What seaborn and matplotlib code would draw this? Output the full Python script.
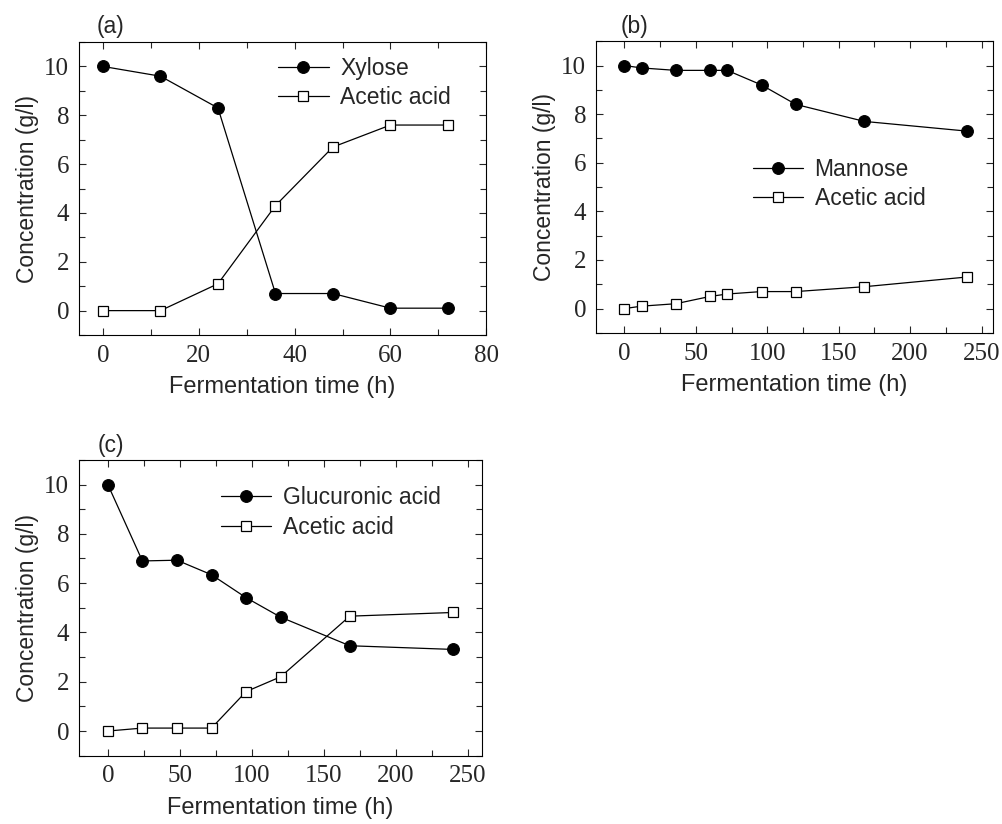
import matplotlib

matplotlib.use("Agg")
import matplotlib.pyplot as plt
import pandas as pd
import seaborn as sns
from matplotlib.ticker import MultipleLocator

# panel (a)
time_a = [0, 12, 24, 36, 48, 60, 72]
xylose = [10.0, 9.6, 8.3, 0.7, 0.7, 0.1, 0.1]
acetic_a = [0.0, 0.0, 1.1, 4.3, 6.7, 7.6, 7.6]

# panel (b)
time_b = [0, 12, 36, 60, 72, 96, 120, 168, 240]
mannose = [10.0, 9.9, 9.8, 9.8, 9.8, 9.2, 8.4, 7.7, 7.3]
acetic_b = [0.0, 0.1, 0.2, 0.5, 0.6, 0.7, 0.7, 0.9, 1.3]

# panel (c)
time_c = [0, 24, 48, 72, 96, 120, 168, 240]
glucuronic = [10.0, 6.9, 6.93, 6.34, 5.41, 4.62, 3.46, 3.31]
acetic_c = [0.0, 0.12, 0.12, 0.12, 1.6, 2.2, 4.66, 4.81]

PANELS = [
    ("(a)", time_a, "Xylose", xylose, acetic_a),
    ("(b)", time_b, "Mannose", mannose, acetic_b),
    ("(c)", time_c, "Glucuronic acid", glucuronic, acetic_c),
]

sns.set_theme(style="ticks")
plt.rcParams["font.family"] = ["Liberation Sans", "DejaVu Sans"]
plt.rcParams["axes.linewidth"] = 0.8

fig = plt.figure(figsize=(10.03, 8.24), dpi=100)
axes = [
    fig.add_axes([0.0788, 0.5934, 0.406, 0.3556]),
    fig.add_axes([0.594, 0.596, 0.396, 0.354]),
    fig.add_axes([0.0788, 0.0829, 0.402, 0.359]),
]

xlims = [(-5, 80), (-20, 258), (-20, 260)]
xmajor = [20, 50, 50]
xminor = [10, 25, 25]
legend_pos = [(0.489, 0.95), (0.395, 0.6), (0.352, 0.91)]
label_pos = [(0.042, 1.03), (0.063, 1.027), (0.045, 1.028)]

for ax, (tag, t, sugar_name, sugar, acetic), xlim, xmj, xmn, lpos, tpos in zip(
    axes, PANELS, xlims, xmajor, xminor, legend_pos, label_pos
):
    df = pd.DataFrame({"time": t, "sugar": sugar, "acetic": acetic})
    sns.lineplot(
        data=df, x="time", y="sugar", ax=ax, color="black", lw=0.9,
        marker="o", ms=8.5, mfc="black", mec="black", label=sugar_name,
    )
    sns.lineplot(
        data=df, x="time", y="acetic", ax=ax, color="black", lw=0.9,
        marker="s", ms=7.5, mfc="white", mec="black", mew=0.9, label="Acetic acid",
    )

    ax.set_xlim(*xlim)
    ax.set_ylim(-1, 11)
    ax.xaxis.set_major_locator(MultipleLocator(xmj))
    ax.xaxis.set_minor_locator(MultipleLocator(xmn))
    ax.yaxis.set_major_locator(MultipleLocator(2))
    ax.yaxis.set_minor_locator(MultipleLocator(1))
    ax.tick_params(which="both", direction="in", top=True, right=True,
                   width=0.8, labelsize=18, labelfontfamily="Liberation Serif")
    ax.tick_params(which="major", length=5, pad=7)
    ax.tick_params(which="minor", length=4)
    for s in ax.spines.values():
        s.set_visible(True)
        s.set_color("black")

    ax.set_xlabel("Fermentation time (h)", fontsize=17, labelpad=7)
    ax.set_ylabel("Concentration (g/l)", fontsize=16.5, labelpad=4)
    ax.text(tpos[0], tpos[1], tag, transform=ax.transAxes, fontsize=16.5,
            ha="left", va="baseline")

    ax.legend(loc="upper left", bbox_to_anchor=lpos, frameon=False,
              fontsize=16.5, handlelength=2.2, handletextpad=0.5,
              labelspacing=0.28, borderpad=0, borderaxespad=0)

fig.savefig("out.png", dpi=100)
